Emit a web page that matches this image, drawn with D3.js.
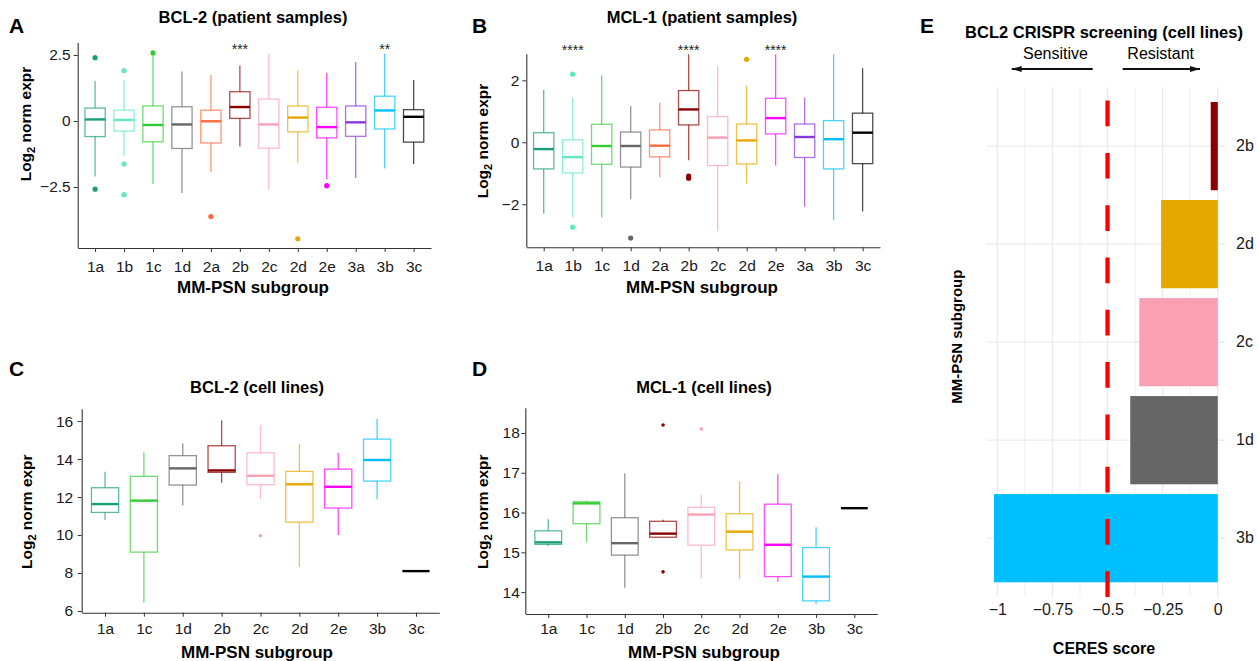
<!DOCTYPE html>
<html>
<head>
<meta charset="utf-8">
<script src="https://cdn.jsdelivr.net/npm/d3@7"></script>
<style>
  body { margin: 0; background: #fff; }
  text { font-family: "Liberation Sans", Arial, Helvetica, sans-serif; }
</style>
</head>
<body>
<div id="canvas"></div>
<script>
// MM-PSN subgroups
const groupsPatient = ["1a", "1b", "1c", "1d", "2a", "2b", "2c", "2d", "2e", "3a", "3b", "3c"];
const groupsCell = ["1a", "1c", "1d", "2b", "2c", "2d", "2e", "3b", "3c"];

const groupColors = {
    "1a": "#1A9E76", "1b": "#62E8BD", "1c": "#33CC33", "1d": "#666666",
    "2a": "#FF6A3D", "2b": "#8B0000", "2c": "#F9A0B5", "2d": "#E5A800",
    "2e": "#FF00FF", "3a": "#8A35DC", "3b": "#00BFFF", "3c": "#000000"
};

// box stats per group: [lower whisker, Q1, median, Q3, upper whisker]
const bcl2Patient = [
    [-2.10, -0.59, 0.06, 0.49, 1.52],
    [-1.31, -0.38, 0.04, 0.41, 1.55],
    [-2.39, -0.79, -0.15, 0.57, 2.55],
    [-2.73, -1.04, -0.13, 0.54, 1.88],
    [-1.93, -0.83, -0.01, 0.41, 1.75],
    [-0.97, 0.10, 0.53, 1.11, 2.10],
    [-2.60, -1.03, -0.13, 0.83, 2.55],
    [-1.57, -0.41, 0.13, 0.57, 1.92],
    [-2.22, -0.64, -0.23, 0.52, 1.82],
    [-2.16, -0.58, -0.05, 0.57, 2.24],
    [-1.80, -0.30, 0.40, 0.94, 2.55],
    [-1.63, -0.80, 0.16, 0.43, 1.55]
];
const bcl2PatientOutliers = [[2.40, -2.58], [1.91, -1.63, -2.79], [2.58], [], [-3.62], [], [], [-4.46], [-2.45], [], [], []];
const bcl2PatientStars = { "2b": "***", "3b": "**" };

const mcl1Patient = [
    [-2.31, -0.86, -0.22, 0.31, 1.69],
    [-2.42, -0.99, -0.48, 0.08, 1.44],
    [-2.43, -0.71, -0.12, 0.58, 2.16],
    [-1.84, -0.80, -0.12, 0.33, 1.17],
    [-1.13, -0.47, -0.11, 0.40, 1.28],
    [-0.58, 0.56, 1.06, 1.67, 2.84],
    [-2.87, -0.75, 0.15, 0.83, 2.46],
    [-1.34, -0.70, 0.06, 0.59, 1.82],
    [-0.75, 0.27, 0.78, 1.42, 2.84],
    [-2.08, -0.49, 0.17, 0.59, 1.44],
    [-2.52, -0.86, 0.10, 0.70, 2.84],
    [-2.23, -0.69, 0.31, 0.94, 2.39]
];
const mcl1PatientOutliers = [[], [2.20, -2.74], [], [-3.09], [], [-1.09, -1.16], [], [2.68], [], [], [], []];
const mcl1PatientStars = { "1b": "****", "2b": "****", "2e": "****" };

const bcl2Cell = [
    [10.79, 11.19, 11.63, 12.49, 13.33],
    [6.44, 9.10, 11.81, 13.09, 14.35],
    [11.56, 12.63, 13.51, 14.18, 14.82],
    [12.75, 13.30, 13.40, 14.70, 16.04],
    [11.88, 12.65, 13.12, 14.33, 15.79],
    [8.33, 10.68, 12.67, 13.35, 14.79],
    [10.00, 11.42, 12.54, 13.47, 14.33],
    [11.89, 12.84, 13.95, 15.05, 16.12],
    [8.10, 8.10, 8.10, 8.10, 8.10]
];
const bcl2CellOutliers = [[], [], [], [], [9.96], [], [], [], []];

const mcl1Cell = [
    [15.16, 15.20, 15.25, 15.54, 15.83],
    [15.25, 15.72, 16.23, 16.27, 16.30],
    [14.11, 14.93, 15.23, 15.87, 16.99],
    [15.38, 15.38, 15.47, 15.78, 15.82],
    [14.33, 15.18, 15.95, 16.13, 16.44],
    [14.34, 15.06, 15.52, 15.97, 16.79],
    [14.26, 14.39, 15.19, 16.21, 16.96],
    [13.70, 13.78, 14.39, 15.12, 15.63],
    [16.11, 16.11, 16.11, 16.11, 16.11]
];
const mcl1CellOutliers = [[], [], [], [18.20, 14.51], [18.10], [], [], [], []];

// panel E: CERES scores
const crisprGroups = ["2b", "2d", "2c", "1d", "3b"];
const crisprScores = [-0.032, -0.257, -0.356, -0.397, -1.015];
const crisprThreshold = -0.5;
const crisprTicks = [-1, -0.75, -0.5, -0.25, 0];

const minus = d => String(d).replace("-", "\u2212");

const svg = d3.select("#canvas")
    .append("svg")
    .attr("width", 1259)
    .attr("height", 661)
    .style("background", "#fff");

function boxPanel(cfg) {
    const x = d3.scalePoint()
        .domain(cfg.groups)
        .range([cfg.left, cfg.right])
        .padding(0.6);
    const y = d3.scaleLinear()
        .domain(cfg.yDomain)
        .range([cfg.bottom, cfg.top]);
    const bw = x.step() * 0.7;

    const g = svg.append("g");

    // axes
    const xAxis = g.append("g")
        .attr("transform", `translate(0,${cfg.bottom})`)
        .call(d3.axisBottom(x).tickSize(4).tickSizeOuter(0).tickPadding(cfg.xPad));
    const yAxis = g.append("g")
        .attr("transform", `translate(${cfg.left},0)`)
        .call(d3.axisLeft(y).tickValues(cfg.yTicks).tickFormat(minus)
            .tickSize(4).tickSizeOuter(0).tickPadding(cfg.yPad));
    [xAxis, yAxis].forEach(a => {
        a.select(".domain").attr("stroke", "#333").attr("stroke-width", 1.1);
        a.selectAll(".tick line").attr("stroke", "#333");
        a.selectAll(".tick text").attr("font-size", 15.5).attr("fill", "#1a1a1a")
            .style("font-family", '"Liberation Sans", Arial, sans-serif');
    });
    // domain spans full panel height
    yAxis.select(".domain").attr("d", `M0.5,${cfg.bottom}V${cfg.top}`);

    const rows = cfg.groups.map((grp, i) => ({ grp, s: cfg.stats[i], out: cfg.outliers[i] }));
    const box = g.append("g").selectAll("g").data(rows).join("g");

    box.append("line")
        .attr("x1", d => x(d.grp)).attr("x2", d => x(d.grp))
        .attr("y1", d => y(d.s[3])).attr("y2", d => y(d.s[4]))
        .attr("stroke", d => groupColors[d.grp]).attr("stroke-opacity", 0.7).attr("stroke-width", 1.3);
    box.append("line")
        .attr("x1", d => x(d.grp)).attr("x2", d => x(d.grp))
        .attr("y1", d => y(d.s[1])).attr("y2", d => y(d.s[0]))
        .attr("stroke", d => groupColors[d.grp]).attr("stroke-opacity", 0.7).attr("stroke-width", 1.3);
    box.append("rect")
        .attr("x", d => x(d.grp) - bw / 2)
        .attr("width", bw)
        .attr("y", d => y(d.s[3]))
        .attr("height", d => y(d.s[1]) - y(d.s[3]))
        .attr("fill", "none")
        .attr("stroke", d => groupColors[d.grp]).attr("stroke-opacity", 0.7).attr("stroke-width", 1.3);
    box.append("line")
        .attr("x1", d => x(d.grp) - bw / 2).attr("x2", d => x(d.grp) + bw / 2)
        .attr("y1", d => y(d.s[2])).attr("y2", d => y(d.s[2]))
        .attr("stroke", d => groupColors[d.grp]).attr("stroke-width", 2.4);
    box.selectAll("circle")
        .data(d => d.out.map(v => ({ grp: d.grp, v })))
        .join("circle")
        .attr("cx", d => x(d.grp))
        .attr("cy", d => y(d.v))
        .attr("r", cfg.ptR)
        .attr("fill", d => groupColors[d.grp]);

    // significance stars
    if (cfg.stars) {
        g.append("g").selectAll("text")
            .data(Object.entries(cfg.stars))
            .join("text")
            .attr("x", d => x(d[0]))
            .attr("y", cfg.starY)
            .attr("text-anchor", "middle")
            .attr("font-size", 14)
            .attr("fill", "#222")
            .text(d => d[1]);
    }

    g.append("text")
        .attr("x", cfg.titleX).attr("y", cfg.titleY)
        .attr("text-anchor", "middle")
        .attr("font-size", 16.5).attr("font-weight", "bold")
        .text(cfg.title);
    g.append("text")
        .attr("x", cfg.letterX).attr("y", cfg.letterY)
        .attr("font-size", 21).attr("font-weight", "bold")
        .text(cfg.letter);
    g.append("text")
        .attr("x", cfg.titleX).attr("y", cfg.xLabY)
        .attr("text-anchor", "middle")
        .attr("font-size", 17).attr("font-weight", "bold")
        .text("MM-PSN subgroup");
    const yl = g.append("text")
        .attr("transform", `translate(${cfg.yLabX},${cfg.yLabY}) rotate(-90)`)
        .attr("text-anchor", "middle")
        .attr("font-size", 15.5).attr("font-weight", "bold");
    yl.append("tspan").text("Log");
    yl.append("tspan").attr("font-size", 11).attr("dy", 4).text("2");
    yl.append("tspan").attr("dy", -4).text(" norm expr");
}

boxPanel({
    groups: groupsPatient, stats: bcl2Patient, outliers: bcl2PatientOutliers, stars: bcl2PatientStars,
    left: 77.7, right: 431, top: 43, bottom: 248, yDomain: [-4.81, 2.955], yTicks: [-2.5, 0, 2.5],
    xPad: 8.5, yPad: 3, ptR: 2.6, starY: 54,
    title: "BCL-2 (patient samples)", titleX: 253, titleY: 23, letter: "A", letterX: 9, letterY: 33,
    xLabY: 293, yLabX: 31, yLabY: 124
});
boxPanel({
    groups: groupsPatient, stats: mcl1Patient, outliers: mcl1PatientOutliers, stars: mcl1PatientStars,
    left: 526.3, right: 880, top: 54.3, bottom: 247.3, yDomain: [-3.39, 2.84], yTicks: [-2, 0, 2],
    xPad: 9, yPad: 3, ptR: 2.6, starY: 55,
    title: "MCL-1 (patient samples)", titleX: 702, titleY: 23, letter: "B", letterX: 472, letterY: 33,
    xLabY: 293, yLabX: 487.5, yLabY: 141
});
boxPanel({
    groups: groupsCell, stats: bcl2Cell, outliers: bcl2CellOutliers,
    left: 81.7, right: 439.3, top: 409.3, bottom: 612.7, yDomain: [5.91, 16.62], yTicks: [6, 8, 10, 12, 14, 16],
    xPad: 6, yPad: 4.5, ptR: 1.8,
    title: "BCL-2 (cell lines)", titleX: 257, titleY: 392.5, letter: "C", letterX: 9, letterY: 375.5,
    xLabY: 658, yLabX: 31.7, yLabY: 511.7
});
boxPanel({
    groups: groupsCell, stats: mcl1Cell, outliers: mcl1CellOutliers,
    left: 525.3, right: 877.3, top: 408.3, bottom: 614, yDomain: [13.45, 18.62], yTicks: [14, 15, 16, 17, 18],
    xPad: 4.5, yPad: 1.5, ptR: 1.8,
    title: "MCL-1 (cell lines)", titleX: 704, titleY: 392.5, letter: "D", letterX: 472, letterY: 375.5,
    xLabY: 658, yLabX: 487.7, yLabY: 511.7
});

// ---- panel E ----
const ex = d3.scaleLinear().domain([-1.048, 0.01]).range([986.7, 1220]);
const ey = d3.scaleBand().domain(crisprGroups).range([87.3, 597])
    .paddingInner(0.1).paddingOuter(0.15);
const eTop = 87.3, eBottom = 597;
const e = svg.append("g");

// minor + major vertical grid
const minorTicks = crisprTicks.slice(1).map((t, i) => (t + crisprTicks[i]) / 2);
e.append("g").selectAll("line").data(minorTicks).join("line")
    .attr("x1", d => ex(d)).attr("x2", d => ex(d))
    .attr("y1", eTop).attr("y2", eBottom)
    .attr("stroke", "#EBEBEB").attr("stroke-width", 0.8);
e.append("g").selectAll("line").data(crisprTicks).join("line")
    .attr("x1", d => ex(d)).attr("x2", d => ex(d))
    .attr("y1", eTop).attr("y2", eBottom)
    .attr("stroke", "#EBEBEB").attr("stroke-width", 1.3);
e.append("g").selectAll("line").data(crisprGroups).join("line")
    .attr("x1", 986.7).attr("x2", 1220)
    .attr("y1", d => ey(d) + ey.bandwidth() / 2).attr("y2", d => ey(d) + ey.bandwidth() / 2)
    .attr("stroke", "#EBEBEB").attr("stroke-width", 1.3);

// bars
e.append("g").selectAll("rect")
    .data(crisprGroups.map((grp, i) => ({ grp, v: crisprScores[i] })))
    .join("rect")
    .attr("x", d => ex(d.v))
    .attr("width", d => ex(0) - ex(d.v))
    .attr("y", d => ey(d.grp))
    .attr("height", ey.bandwidth())
    .attr("fill", d => groupColors[d.grp]);

// threshold
e.append("line")
    .attr("x1", ex(crisprThreshold)).attr("x2", ex(crisprThreshold))
    .attr("y1", eBottom).attr("y2", eTop)
    .attr("stroke", "#FF0000").attr("stroke-width", 4.3)
    .attr("stroke-dasharray", "25.7,26.6");

// axes
const eAxisX = e.append("g")
    .attr("transform", `translate(0,${eBottom})`)
    .call(d3.axisBottom(ex).tickValues(crisprTicks).tickFormat(minus).tickSize(0).tickPadding(7));
const eAxisY = e.append("g")
    .attr("transform", "translate(1220,0)")
    .call(d3.axisRight(ey).tickSize(5).tickPadding(11));
[eAxisX, eAxisY].forEach(a => {
    a.select(".domain").remove();
    a.selectAll(".tick line").attr("stroke", "#E0E0E0");
    a.selectAll(".tick text").attr("font-size", 16).attr("fill", "#1a1a1a")
        .style("font-family", '"Liberation Sans", Arial, sans-serif');
});

e.append("text").attr("x", 920).attr("y", 33)
    .attr("font-size", 21).attr("font-weight", "bold").text("E");
e.append("text").attr("x", 1104).attr("y", 37.7).attr("text-anchor", "middle")
    .attr("font-size", 16.5).attr("font-weight", "bold").text("BCL2 CRISPR screening (cell lines)");
e.append("text").attr("x", 1055.5).attr("y", 59).attr("text-anchor", "middle")
    .attr("font-size", 16).text("Sensitive");
e.append("text").attr("x", 1160.7).attr("y", 59).attr("text-anchor", "middle")
    .attr("font-size", 16).text("Resistant");

// direction arrows
svg.append("defs").append("marker")
    .attr("id", "arrow").attr("viewBox", "0 0 10 6")
    .attr("refX", 10).attr("refY", 3)
    .attr("markerWidth", 10).attr("markerHeight", 6)
    .attr("markerUnits", "userSpaceOnUse")
    .attr("orient", "auto")
    .append("path").attr("d", "M0,0L10,3L0,6Z").attr("fill", "#111");
e.append("line").attr("x1", 1092.7).attr("x2", 1011.7).attr("y1", 69).attr("y2", 69)
    .attr("stroke", "#111").attr("stroke-width", 2).attr("marker-end", "url(#arrow)");
e.append("line").attr("x1", 1122.7).attr("x2", 1200).attr("y1", 69).attr("y2", 69)
    .attr("stroke", "#111").attr("stroke-width", 2).attr("marker-end", "url(#arrow)");

e.append("text").attr("x", 1104).attr("y", 654).attr("text-anchor", "middle")
    .attr("font-size", 16).attr("font-weight", "bold").text("CERES score");
e.append("text")
    .attr("transform", "translate(961.7,336.7) rotate(-90)")
    .attr("text-anchor", "middle")
    .attr("font-size", 15).attr("font-weight", "bold").text("MM-PSN subgroup");
</script>
</body>
</html>
